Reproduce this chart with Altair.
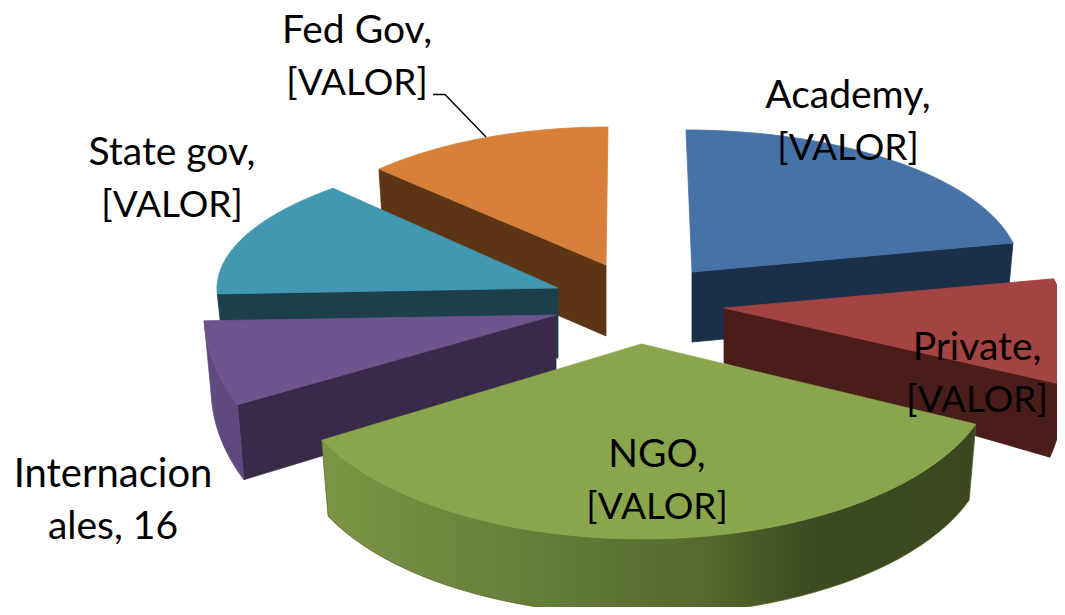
import altair as alt
import numpy as np
import pandas as pd

# ---- chart values -------------------------------------------------------
categories = ["Academy", "Private", "NGO", "Internacionales", "State gov", "Fed Gov"]
values = [54, 22, 94, 16, 33, 31]
label_lines = [
    ["Academy,", "[VALOR]"],
    ["Private,", "[VALOR]"],
    ["NGO,", "[VALOR]"],
    ["Internacion", "ales, 16"],
    ["State gov,", "[VALOR]"],
    ["Fed Gov,", "[VALOR]"],
]
top_colors = ["#4672A8", "#A44442", "#8AA64C", "#6F548D", "#4298B0", "#D6803A"]
side_colors = ["#1A3048", "#4A1C1A", "#3E4B20", "#3A2A4A", "#1C3F4B", "#5C3514"]
rim_colors = [None, "#4A1C1A", "gradient", "#5F4A80", None, None]

# ---- projection of each exploded slice (ellipse of the 3-D pie) ----------
geometry = {
    "Academy": dict(cx=686, cy=273.3, rx=334.6, ry=143.3, shear=0, ax=692, ay=272, da=70, dr=70, face=1),
    "Private": dict(cx=722, cy=319.4, rx=345, ry=191.5, shear=0.14, ax=724, ay=308, da=55, dr=74, face=1),
    "NGO": dict(cx=642, cy=367, rx=354, ry=172, shear=0, ax=641.5, ay=344, da=70, dr=76, face=None),
    "Internacionales": dict(cx=556, cy=312.7, rx=352, ry=216, shear=0, ax=556, ay=315, da=70, dr=75, face=0),
    "State gov": dict(cx=607, cy=288.6, rx=390, ry=141, shear=0, ax=558, ay=288, da=70, dr=70, face=0),
    "Fed Gov": dict(cx=608, cy=273, rx=326, ry=146, shear=0, ax=606, ay=265, da=71, dr=71, face=0),
}
draw_order = ["Fed Gov", "Academy", "State gov", "Private", "Internacionales", "NGO"]
label_pos = {
    "Academy": (848, 108), "Private": (977, 360), "NGO": (657, 467),
    "Internacionales": (113, 487), "State gov": (172, 165), "Fed Gov": (357, 43),
}
line_gap = 52
leader_x = [433, 445, 486]
leader_y = [94.5, 94.5, 137]

W, H = 1049, 599
x_enc = alt.X("x:Q", scale=alt.Scale(domain=[8, 8 + W]), axis=None)
y_enc = alt.Y("y:Q", scale=alt.Scale(domain=[8 + H, 8]), axis=None)


def arc(g, t0, t1, drop=0.0, squeeze=1.0, n=48):
    t = np.radians(np.linspace(t0, t1, n))
    x = g["cx"] + g["rx"] * squeeze * np.sin(t)
    y = g["cy"] - g["ry"] * np.cos(t)
    x = x + g["shear"] * (y - g["cy"])
    return x, y + drop


def poly(xs, ys, fill):
    df = pd.DataFrame({"x": xs, "y": ys, "i": np.arange(len(xs))})
    stroke = fill if isinstance(fill, str) else "#56692e"
    return (
        alt.Chart(df)
        .mark_line(interpolate="linear-closed", fill=fill, stroke=stroke,
                   strokeWidth=0.8, clip=True)
        .encode(x=x_enc, y=y_enc, order="i:Q")
    )


ngo_gradient = alt.Gradient(
    gradient="linear", x1=0, x2=1, y1=0, y2=0,
    stops=[
        alt.GradientStop(color="#7C9545", offset=0),
        alt.GradientStop(color="#66803A", offset=0.3),
        alt.GradientStop(color="#56692E", offset=0.58),
        alt.GradientStop(color="#3C4A20", offset=0.75),
        alt.GradientStop(color="#3A4720", offset=1),
    ],
)

angles = np.cumsum([0] + values) / sum(values) * 360
start = dict(zip(categories, angles[:-1]))
end = dict(zip(categories, angles[1:]))

layers = []
for name in draw_order:
    i = categories.index(name)
    g = geometry[name]
    t0, t1 = start[name], end[name]
    ax0, ay0 = arc(g, t0, t1)
    # radial cut face
    if g["face"] is not None:
        k = 0 if g["face"] == 0 else -1
        bx, by = arc(g, t0, t1, drop=g["dr"], squeeze=0.98)
        layers.append(poly(
            [g["ax"], ax0[k], bx[k], g["ax"]],
            [g["ay"], ay0[k], by[k], g["ay"] + g["da"]],
            side_colors[i],
        ))
    # outer rim
    if rim_colors[i] is not None:
        bx, by = arc(g, t0, t1, drop=g["dr"], squeeze=0.98)
        fill = ngo_gradient if rim_colors[i] == "gradient" else rim_colors[i]
        layers.append(poly(
            np.concatenate([ax0, bx[::-1]]),
            np.concatenate([ay0, by[::-1]]),
            fill,
        ))
    # top face
    layers.append(poly(
        np.concatenate([[g["ax"]], ax0]),
        np.concatenate([[g["ay"]], ay0]),
        top_colors[i],
    ))

leader = alt.Chart(pd.DataFrame({"x": leader_x, "y": leader_y, "i": [0, 1, 2]})).mark_line(
    color="#000000", strokeWidth=1.4
).encode(x=x_enc, y=y_enc, order="i:Q")

rows = []
for name, lines in zip(categories, label_lines):
    px, py = label_pos[name]
    for j, line in enumerate(lines):
        size = 37 if line == "[VALOR]" else (40 if line == "Internacion" else 39)
        rows.append({"x": px, "y": py + j * line_gap, "t": line, "s": size})
labels = alt.Chart(pd.DataFrame(rows)).mark_text(
    font="Lato", align="center", baseline="alphabetic", color="#000000"
).encode(x=x_enc, y=y_enc, text="t:N", size=alt.Size("s:Q", scale=None, legend=None))

chart = (
    alt.layer(*layers, leader, labels)
    .properties(width=W, height=H, padding=0, background="#ffffff")
    .configure_view(stroke=None)
)
chart.save("out.html", embed_options={"renderer": "svg", "actions": False})
